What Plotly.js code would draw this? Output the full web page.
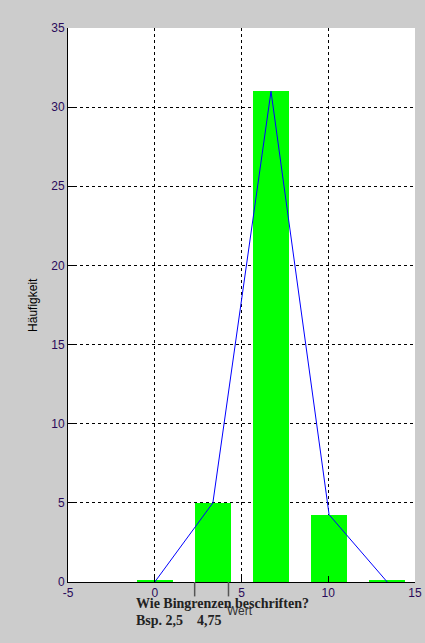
<!DOCTYPE html>
<html>
<head>
<meta charset="utf-8">
<script src="https://cdn.plot.ly/plotly-3.0.1.min.js"></script>
<style>html,body{margin:0;padding:0;background:#cccccc;}#chart{width:425px;height:643px;}</style>
</head>
<body>
<div id="chart"></div>
<script>
// Data
var binCenters = [0, 3.35, 6.7, 10.05, 13.4];
var counts = [0, 5, 31, 4.25, 0];
var barHeights = [0.1, 5, 31, 4.25, 0.1];
var barWidth = 2.07;
var edgeMarks = [2.3, 4.25];
var xTicks = [-5, 0, 5, 10, 15];
var yTicks = [0, 5, 10, 15, 20, 25, 30, 35];

var tickFont = {family: 'Liberation Sans, Arial, sans-serif', size: 12, color: '#2a0a5a'};
var noteFont = {family: 'Liberation Serif, Times New Roman, serif', size: 14, color: '#222222'};

var traces = [
  {
    type: 'bar', x: binCenters, y: barHeights,
    width: binCenters.map(function(){return barWidth;}),
    marker: {color: '#00ff00', line: {width: 0}},
    hoverinfo: 'skip', showlegend: false
  },
  {
    type: 'scatter', mode: 'lines', x: binCenters, y: counts,
    line: {color: '#0000ff', width: 1},
    hoverinfo: 'skip', showlegend: false
  }
];

var shapes = edgeMarks.map(function(v){
  return {type: 'line', xref: 'x', yref: 'paper', x0: v, x1: v, y0: 0, y1: -0.026,
          line: {color: '#555555', width: 1.5}};
});

var layout = {
  width: 425, height: 643,
  paper_bgcolor: '#cccccc', plot_bgcolor: '#ffffff',
  margin: {l: 68, r: 10, t: 28, b: 61},
  xaxis: {
    range: [-5, 15], tickvals: xTicks, ticktext: xTicks.map(String),
    showgrid: true, gridcolor: '#000000', gridwidth: 1, griddash: '3px,3px',
    showline: true, linecolor: '#000000', linewidth: 1,
    ticks: 'inside', ticklen: 6, tickcolor: '#000000',
    tickfont: tickFont, zeroline: false, fixedrange: true
  },
  yaxis: {
    range: [0, 35], tickvals: yTicks, ticktext: yTicks.map(String),
    showgrid: true, gridcolor: '#000000', gridwidth: 1, griddash: '3px,3px',
    showline: true, linecolor: '#000000', linewidth: 1,
    ticks: 'inside', ticklen: 6, tickcolor: '#000000',
    tickfont: tickFont, zeroline: false, fixedrange: true
  },
  shapes: shapes,
  annotations: [
    {text: 'Häufigkeit', xref: 'paper', yref: 'paper', x: -0.101, y: 0.5,
     textangle: -90, showarrow: false, xanchor: 'center', yanchor: 'middle',
     font: {family: 'Liberation Sans, Arial, sans-serif', size: 12, color: '#000000'}},
    {text: 'Wert', xref: 'paper', yref: 'paper', x: 0.496, y: -0.052,
     showarrow: false, xanchor: 'center', yanchor: 'middle',
     font: {family: 'Liberation Sans, Arial, sans-serif', size: 12, color: '#333333'}},
    {text: '<b>Wie Bingrenzen beschriften?</b>',
     xref: 'paper', yref: 'paper', x: 0.19, y: -0.0397,
     showarrow: false, xanchor: 'left', yanchor: 'middle', align: 'left',
     font: noteFont},
    {text: '<b>Bsp. 2,5&nbsp;&nbsp;&nbsp;&nbsp;4,75</b>',
     xref: 'paper', yref: 'paper', x: 0.19, y: -0.0686,
     showarrow: false, xanchor: 'left', yanchor: 'middle', align: 'left',
     font: noteFont}
  ],
  bargap: 0
};

Plotly.newPlot('chart', traces, layout, {staticPlot: true, displayModeBar: false});
</script>
</body>
</html>
